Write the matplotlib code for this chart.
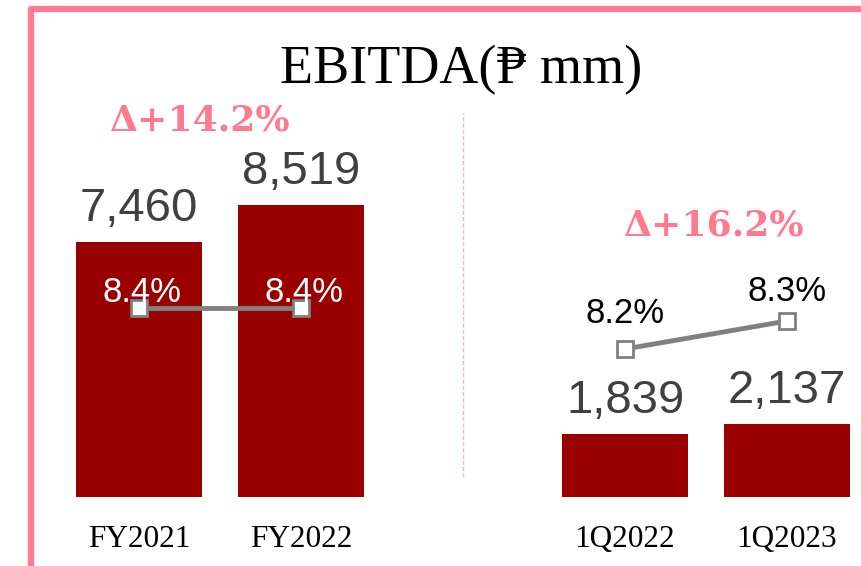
import matplotlib.pyplot as plt
from matplotlib.patches import Rectangle

## DATA
periods = ['FY2021', 'FY2022', '1Q2022', '1Q2023']
ebitda = [7460, 8519, 1839, 2137]
margin_fy = [8.4, 8.4]
margin_q = [8.2, 8.3]
delta_labels = ['Δ+14.2%', 'Δ+16.2%']
##########

BAR = '#9B0000'
PINK = '#FF7990'
GREY = '#808080'

xpos = [0, 1, 3, 4]

fig = plt.figure(figsize=(8.61, 5.66), dpi=100)

# pink frame (left + top edges visible, rest runs off the canvas)
fig.patches.append(Rectangle((31 / 861, -0.1), 1.2, 1.1 - 9 / 566, transform=fig.transFigure,
                             fill=False, edgecolor=PINK, linewidth=4.5, joinstyle='round'))

ax = fig.add_axes([0, 69 / 566, 1, 486 / 566])
ax.set_xlim(-139 / 162, 722 / 162)
ax.set_ylim(0, 486 * 29.2)

ax.bar(xpos, ebitda, width=0.78, color=BAR)
for x, v in zip(xpos, ebitda):
    ax.annotate(f'{v:,}', (x, v), xytext=(0, 15), textcoords='offset points',
                ha='center', va='baseline', fontsize=34, color='#404040',
                family='Liberation Sans')

# separator between annual and quarterly
ax.plot([2, 2], [584, 11213], color='#F4B8C8', lw=1, ls=(0, (3, 1.5)))

# margin lines on their own scales
tw1 = ax.twinx()
tw1.set_ylim(8.4 - 189 / 280, 8.4 + 297 / 280)
tw2 = ax.twinx()
tw2.set_ylim(8.2 - 148 / 280, 8.2 + 338 / 280)
for t in (tw1, tw2):
    t.axis('off')

ax.set_xticks(xpos)
ax.set_xticklabels(periods, family='Liberation Serif', fontsize=22.5)
ax.tick_params(axis='x', length=0, pad=20)
ax.set_yticks([])
for s in ax.spines.values():
    s.set_visible(False)

tw1.plot(xpos[:2], margin_fy, '-s', color=GREY, lw=3.5, ms=12, mfc='white', mec=GREY, mew=2)
tw2.plot(xpos[2:], margin_q, '-s', color=GREY, lw=3.5, ms=12, mfc='white', mec=GREY, mew=2)
for x, m in zip(xpos[:2], margin_fy):
    tw1.annotate(f'{m}%', (x, m), xytext=(2, 4.3), textcoords='offset points',
                 ha='center', va='baseline', fontsize=25, color='white', family='Liberation Sans')
for x, m, off in zip(xpos[2:], margin_q, [19, 14.4]):
    tw2.annotate(f'{m}%', (x, m), xytext=(0, off), textcoords='offset points',
                 ha='center', va='baseline', fontsize=25, color='black', family='Liberation Sans')

# growth labels
ax.text(0.377, 10716, delta_labels[0], ha='center', va='baseline', fontsize=26,
        color=PINK, family='DejaVu Serif', fontweight='bold')
ax.text(3.553, 7650, delta_labels[1], ha='center', va='baseline', fontsize=26,
        color=PINK, family='DejaVu Serif', fontweight='bold')

fig.text(461 / 861, 1 - 83 / 566, 'EBITDA(₱ mm)', ha='center', va='baseline',
         fontsize=39, family=['Liberation Serif', 'DejaVu Serif'])

fig.savefig('out.png', dpi=100)
